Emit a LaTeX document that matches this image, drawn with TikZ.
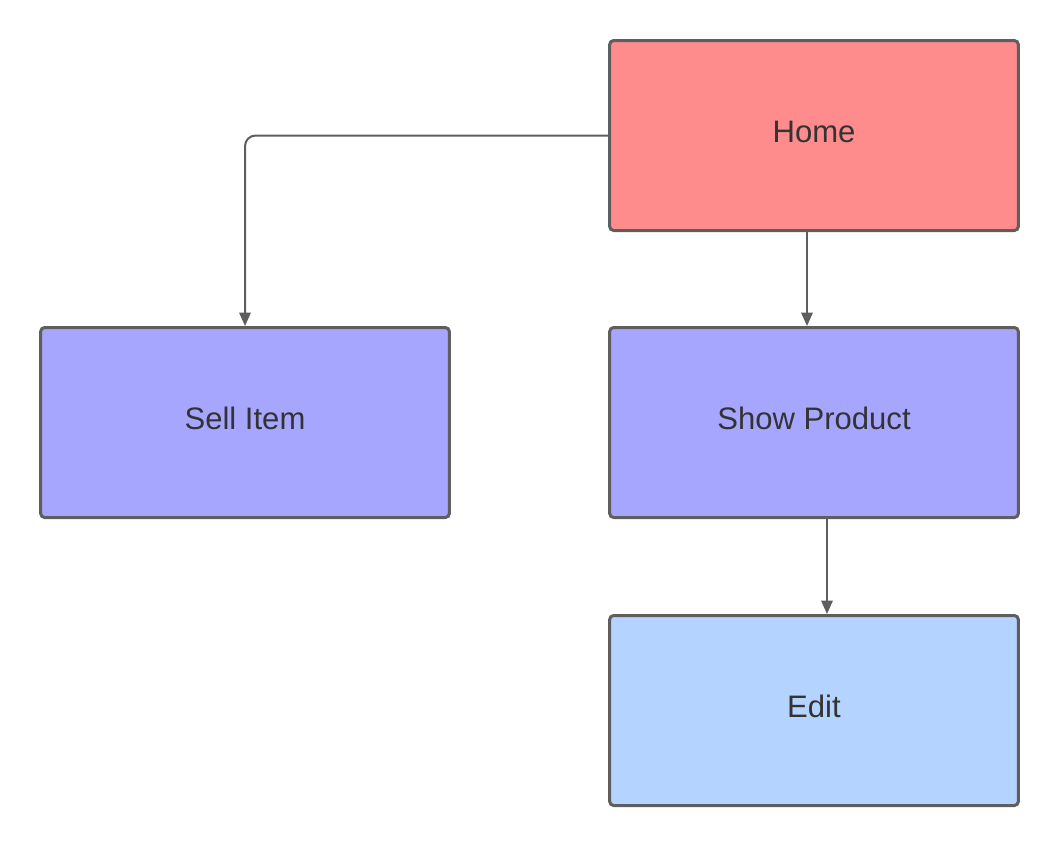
\documentclass[tikz,border=0pt]{standalone}
\usepackage{fontspec}
\setmainfont{Liberation Sans}
\usetikzlibrary{arrows.meta}
\definecolor{homered}{HTML}{FF8C8C}
\definecolor{pagepurple}{HTML}{A6A6FF}
\definecolor{editblue}{HTML}{B4D4FF}
\definecolor{edgegray}{HTML}{5E5E5E}
\definecolor{textgray}{HTML}{333333}
\tikzset{
    pagebox/.style={draw=edgegray, line width=2.25pt, rounded corners=3pt,
        minimum width=306.5pt, minimum height=142.5pt, inner sep=0pt,
        text height=17pt, text depth=7pt,
        text=textgray, font=\fontsize{23.3}{27}\selectfont},
    link/.style={draw=edgegray, line width=1.5pt,
        -{Triangle[length=10pt, width=8.5pt]}}
}
\begin{document}
\begin{tikzpicture}[x=0.75pt, y=-0.75pt]
    \useasboundingbox (0,0) rectangle (1060,846);
    % pages
    \node[pagebox, fill=homered] (home) at (814,135.5) {Home};
    \node[pagebox, fill=pagepurple] (sell) at (245,422.5) {Sell Item};
    \node[pagebox, fill=pagepurple] (show) at (814,422.5) {Show Product};
    \node[pagebox, fill=editblue] (edit) at (814,710.5) {Edit};
    % links
    \draw[link, rounded corners=8pt] (home.west) -| (sell.north);
    \draw[link] ([xshift=-5.25pt]home.south) -- ([xshift=-5.25pt]show.north);
    \draw[link] ([xshift=9.75pt]show.south) -- ([xshift=9.75pt]edit.north);
\end{tikzpicture}
\end{document}
